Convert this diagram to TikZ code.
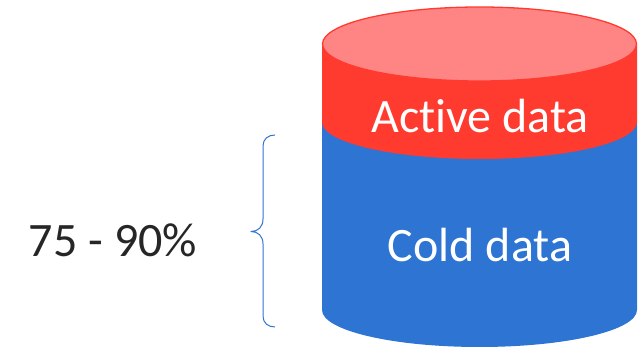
\documentclass[tikz,border=0pt]{standalone}
\usepackage{fontspec}
\setmainfont[Ligatures=NoCommon]{Carlito}
\definecolor{activered}{HTML}{FF3B30}
\definecolor{activetop}{HTML}{FF8585}
\definecolor{coldblue}{HTML}{2E74D3}
\definecolor{percentgray}{HTML}{262626}
\tikzset{datalabel/.style={text=white, font=\fontsize{48}{48}\selectfont}}
\begin{document}
\begin{tikzpicture}[x=1pt,y=1pt]
\useasboundingbox (0,0) rectangle (641,347);

\fill [coldblue] (322,225) -- (322,37) arc [start angle=180, end angle=360, x radius=157.5, y radius=37] -- (637,225) -- cycle;
\fill [activered] (322,302) -- (322,225) arc [start angle=180, end angle=360, x radius=157.5, y radius=37] -- (637,302) -- cycle;
\draw [activered, fill=activetop, line width=1.3pt] (479.5,303) ellipse [x radius=157, y radius=37];

\node [datalabel] (active) at (480,231) {Active data};
\node [datalabel] (cold) at (480,102) {Cold data};
\node [text=percentgray, font=\fontsize{48}{48}\selectfont] (percent) at (113,107) {75 - 90\%};

\draw [coldblue, line width=1pt, line join=round] (275,212) .. controls (268,212) and (263,208) .. (263,201) -- (263,128)
  .. controls (263,120) and (258,115.5) .. (251,115.5) .. controls (258,115.5) and (263,111) .. (263,103)
  -- (263,31) .. controls (263,24) and (268,20) .. (275,20);
\end{tikzpicture}
\end{document}
